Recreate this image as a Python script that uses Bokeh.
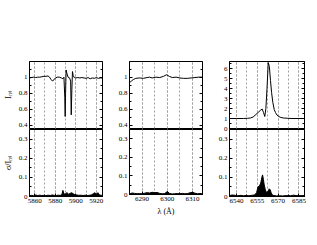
from bokeh.plotting import figure
from bokeh.layouts import row, column
from bokeh.models import Range1d, LinearAxis, SingleIntervalTicker, CustomJSTickFormatter
from bokeh.embed import file_html
from bokeh.resources import INLINE

# ---------------- data ----------------
# Panel 1: Na I D region
lam1 = [5855, 5857, 5859, 5861, 5863, 5865, 5867, 5869, 5871, 5873, 5874.5, 5876, 5877.5, 5879,
        5880.5, 5882, 5884, 5886, 5887.5, 5888.5, 5889.3, 5889.7, 5890.1, 5890.6, 5891.3, 5892.5,
        5894, 5895.0, 5895.6, 5896.2, 5896.8, 5897.5, 5898.5, 5900, 5902, 5904, 5906, 5908, 5910,
        5912, 5914, 5916, 5918, 5920, 5922, 5924, 5926]
irel1 = [0.99, 0.995, 1.0, 0.995, 1.0, 1.0, 1.005, 1.01, 1.01, 1.015, 1.0, 0.97, 0.95, 0.975,
         0.99, 1.0, 1.0, 0.99, 0.98, 1.0, 0.75, 0.51, 0.8, 1.09, 1.05, 1.0,
         0.99, 0.95, 0.53, 0.85, 1.07, 1.02, 0.995, 0.99, 0.995, 0.99, 0.995, 0.99, 0.985,
         0.995, 0.98, 0.99, 0.985, 0.995, 0.985, 0.99, 0.99]
slam1 = [5855, 5857, 5859, 5861, 5863, 5865, 5867, 5869, 5871, 5873, 5875, 5877, 5879, 5881, 5883,
         5885, 5886.5, 5887.5, 5888.5, 5890, 5891.5, 5893, 5894.5, 5896, 5897.5, 5899, 5901, 5903,
         5905, 5907, 5909, 5911, 5913, 5915, 5917, 5918.5, 5920, 5921.5, 5923, 5925, 5926]
sig1 = [0.004, 0.006, 0.004, 0.008, 0.005, 0.007, 0.005, 0.006, 0.004, 0.007, 0.005, 0.008, 0.006,
        0.005, 0.007, 0.006, 0.01, 0.032, 0.012, 0.015, 0.02, 0.012, 0.016, 0.02, 0.014, 0.01,
        0.008, 0.006, 0.007, 0.005, 0.007, 0.005, 0.006, 0.008, 0.014, 0.02, 0.012, 0.02, 0.008,
        0.006, 0.005]

# Panel 2: [O I] 6300 region
lam2 = [6285, 6285.7, 6286.5, 6287.5, 6289, 6290.5, 6292, 6293, 6294, 6295.5, 6297, 6298.5, 6299.7,
        6300.8, 6302, 6303.5, 6305, 6306.5, 6308, 6309.5, 6311, 6312.5, 6314]
irel2 = [0.93, 0.95, 0.97, 0.985, 0.99, 0.985, 0.995, 1.0, 0.99, 1.0, 0.995, 1.01, 1.03,
         1.01, 0.995, 1.0, 0.99, 0.985, 0.985, 0.99, 0.995, 1.0, 1.0]
slam2 = [6285, 6286, 6287, 6288, 6289, 6290, 6291, 6292, 6293, 6294, 6295, 6296, 6297, 6298, 6299,
         6300, 6301, 6302, 6303, 6304, 6305, 6306, 6307, 6308, 6309, 6310, 6311, 6312, 6313, 6314]
sig2 = [0.003, 0.008, 0.006, 0.004, 0.005, 0.004, 0.007, 0.01, 0.008, 0.012, 0.01, 0.011, 0.006,
        0.004, 0.005, 0.016, 0.005, 0.003, 0.004, 0.005, 0.004, 0.006, 0.004, 0.005, 0.009, 0.012,
        0.007, 0.004, 0.005, 0.004]

# Panel 3: H-alpha region
lam3 = [6535, 6540, 6545, 6548, 6550, 6552, 6554, 6556, 6557.5, 6558.5, 6559.5, 6560.4, 6561.2,
        6562, 6562.9, 6563.7, 6564.5, 6565.3, 6566.2, 6567.2, 6568.1, 6569.2, 6570.5, 6572, 6574,
        6577, 6580, 6585, 6589]
irel3 = [1.0, 1.0, 1.0, 1.02, 1.05, 1.15, 1.4, 1.65, 1.85, 1.95, 1.6, 1.2, 2.0,
         4.0, 6.6, 6.2, 4.8, 3.6, 2.6, 1.9, 1.6, 1.35, 1.2, 1.1, 1.05,
         1.02, 1.0, 1.0, 1.0]
slam3 = [6535, 6537, 6539, 6541, 6543, 6545, 6547, 6549, 6551, 6553, 6554.5, 6555.5, 6556.5, 6557.5,
         6558.3, 6558.8, 6559.4, 6560, 6560.8, 6561.5, 6562.3, 6563, 6563.6, 6564.3, 6565, 6565.8,
         6567, 6569, 6571, 6573, 6575, 6577, 6579, 6581, 6583, 6585, 6587, 6589]
sig3 = [0.005, 0.008, 0.006, 0.004, 0.006, 0.004, 0.005, 0.004, 0.006, 0.008, 0.02, 0.05, 0.055,
        0.07, 0.1, 0.113, 0.09, 0.06, 0.035, 0.022, 0.025, 0.03, 0.04, 0.035, 0.02, 0.008,
        0.005, 0.003, 0.004, 0.003, 0.004, 0.005, 0.004, 0.007, 0.005, 0.004, 0.005, 0.004]

xlims = [(5855, 5926), (6285, 6314), (6535, 6589)]
xtick_major = [20, 10, 15]
upper_ylims = [(0.36, 1.195), (0.36, 1.195), (0, 6.7)]
upper_ytick = [0.2, 0.2, 1]
lower_ylim = (0, 0.35)
lower_ytick = 0.1
upper_ylabel = "Iᵣₑₗ"
lower_ylabel = "σ/Iᵣₑₗ"
xlabel = "λ (Å)"

# ---------------- styling ----------------
FONT = "Liberation Serif"
TICK_FS = "7px"
LABEL_FS = "8px"
GRID_COLOR = "#a0a0a0"

num_fmt = CustomJSTickFormatter(code="return String(Math.round(tick*1000)/1000)")
empty_fmt = CustomJSTickFormatter(code="return ''")

left_borders = [29, 23, 23]
frame_w = [73, 73, 75]
right_border = 4
UP_TOP, UP_FRAME, UP_BOT = 61, 67, 5
LO_FRAME, LO_BOT = 67, 22
OVERLAP = 4


def style_axis(ax, labels=True):
    ax.major_tick_in = 3
    ax.major_tick_out = 0
    ax.minor_tick_in = 2
    ax.minor_tick_out = 0
    ax.axis_line_color = "black"
    ax.major_tick_line_color = "black"
    ax.minor_tick_line_color = "black"
    ax.major_label_text_font = FONT
    ax.major_label_text_font_size = TICK_FS
    ax.major_label_text_color = "black"
    ax.major_label_standoff = 2 if labels else 0
    ax.axis_label_text_font = FONT
    ax.axis_label_text_font_size = LABEL_FS
    ax.axis_label_text_font_style = "normal"
    ax.axis_label_text_color = "black"
    ax.axis_label_standoff = 3


def style_grid(p, ticker):
    g = p.xgrid[0]
    g.ticker = ticker
    g.grid_line_color = GRID_COLOR
    g.grid_line_dash = "2 2"
    g.grid_line_width = 1
    g.minor_grid_line_color = GRID_COLOR
    g.minor_grid_line_dash = "2 2"
    g.minor_grid_line_width = 1
    p.ygrid.visible = False


cols = []
datasets = [(lam1, irel1, slam1, sig1), (lam2, irel2, slam2, sig2), (lam3, irel3, slam3, sig3)]
for i in range(3):
    lam, irel, slam, sig = datasets[i]
    W = left_borders[i] + frame_w[i] + right_border
    xr = Range1d(*xlims[i])
    xticker = SingleIntervalTicker(interval=xtick_major[i], num_minor_ticks=2)

    # upper panel
    yt_u = SingleIntervalTicker(interval=upper_ytick[i], num_minor_ticks=2)
    pu = figure(width=W, height=UP_TOP + UP_FRAME + UP_BOT, x_range=xr,
                y_range=Range1d(*upper_ylims[i]), x_axis_location=None,
                output_backend="svg", toolbar_location=None)
    pu.min_border_left = left_borders[i]
    pu.min_border_right = right_border
    pu.min_border_top = UP_TOP
    pu.min_border_bottom = UP_BOT
    pu.outline_line_color = "black"
    pu.outline_line_width = 1
    pu.yaxis.ticker = yt_u
    pu.yaxis.formatter = num_fmt
    style_axis(pu.yaxis[0])
    if i == 0:
        pu.yaxis.axis_label = upper_ylabel
    ra = LinearAxis(ticker=yt_u, formatter=empty_fmt)
    style_axis(ra, labels=False)
    pu.add_layout(ra, "right")
    style_grid(pu, xticker)
    pu.line(lam, irel, line_color="black", line_width=1)

    # lower panel
    yt_l = SingleIntervalTicker(interval=lower_ytick, num_minor_ticks=2)
    pl = figure(width=W, height=LO_FRAME + LO_BOT, x_range=xr,
                y_range=Range1d(*lower_ylim),
                output_backend="svg", toolbar_location=None,
                margin=(-OVERLAP, 0, 0, 0))
    pl.min_border_left = left_borders[i]
    pl.min_border_right = right_border
    pl.min_border_top = 0
    pl.min_border_bottom = LO_BOT
    pl.border_fill_alpha = 0
    pl.background_fill_alpha = 0
    pl.outline_line_color = "black"
    pl.outline_line_width = 1
    pl.xaxis.ticker = xticker
    style_axis(pl.xaxis[0])
    pl.yaxis.ticker = yt_l
    pl.yaxis.formatter = num_fmt
    style_axis(pl.yaxis[0])
    if i == 0:
        pl.yaxis.axis_label = lower_ylabel
    if i == 1:
        pl.xaxis.axis_label = xlabel
    ra2 = LinearAxis(ticker=yt_l, formatter=empty_fmt)
    style_axis(ra2, labels=False)
    pl.add_layout(ra2, "right")
    style_grid(pl, xticker)
    pl.varea(x=slam, y1=0, y2=sig, fill_color="black")
    pl.line(slam, sig, line_color="black", line_width=1)

    cols.append(column(pu, pl, spacing=0))

layout = row(*cols, spacing=0)

open("out.html", "w").write(file_html(layout, INLINE))
